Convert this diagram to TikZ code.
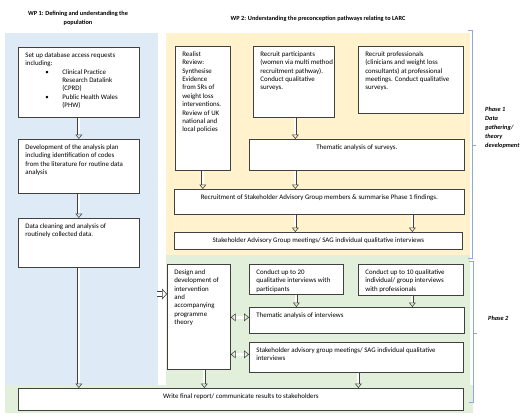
\documentclass[tikz,border=0pt]{standalone}
\usepackage{fontspec}
\setmainfont{Carlito}
\usetikzlibrary{arrows.meta,calc}

\definecolor{wpblue}{HTML}{DEEAF6}
\definecolor{wpyellow}{HTML}{FFF2CC}
\definecolor{wpgreen}{HTML}{E2EFDA}
\definecolor{brk}{HTML}{8EAADB}
\definecolor{bord}{HTML}{404040}

\newcommand\bxfont{\fontsize{6.9}{8.4}\selectfont}
\newcommand\ttlfont{\fontsize{6.3}{9}\selectfont\bfseries}

\tikzset{
  box/.style={draw=bord, line width=0.7pt, fill=white, anchor=north west,
    inner sep=0pt, font=\bxfont},
  varr/.style={draw=bord, double=white, line width=0.55pt, double distance=2pt,
    -{Triangle[open,width=7pt,length=4.5pt]}},
  harr/.style={draw=bord, double=white, line width=0.55pt, double distance=2.6pt,
    {Triangle[open,width=8pt,length=5pt]}-{Triangle[open,width=8pt,length=5pt]}},
  barr/.style={draw=bord, double=white, line width=0.6pt, double distance=4.5pt,
    -{Triangle[open,width=11pt,length=5pt]}},
  brace/.style={draw=brk, line width=0.7pt},
  title/.style={font=\ttlfont, align=center, inner sep=0pt},
  phase/.style={font=\fontsize{6.3}{9}\selectfont\bfseries\itshape, align=left,
    anchor=west, inner sep=0pt},
}

% left-aligned text box: name, x, y, w, h, text
\newcommand\lbox[6]{%
  \node[box, minimum width=#4pt, minimum height=#5pt] (#1) at (#2,#3)
  {\hspace*{7pt}\parbox[c][\dimexpr#5pt-8pt\relax][t]{\dimexpr#4pt-8pt\relax}{\raggedright\strut#6}\hspace*{1pt}};}
% centred text box
\newcommand\cbox[6]{%
  \node[box, minimum width=#4pt, minimum height=#5pt] (#1) at (#2,#3)
  {\parbox[c][\dimexpr#5pt-8pt\relax][t]{\dimexpr#4pt-4pt\relax}{\centering\strut#6}};}

\begin{document}
\begin{tikzpicture}[x=1pt, y=-1pt]
\useasboundingbox (0,0) rectangle (529,418);

% panels
\fill[wpblue] (5,33) rectangle (158,385);
\fill[wpyellow] (166,33) rectangle (470,255);
\fill[wpgreen] (166,255) rectangle (470,385);
\fill[wpgreen] (5,385) rectangle (473,413);

% titles
\node[title] (wp1) at (78,18.5) {WP 1: Defining and understanding the\\population};
\node[title] (wp2) at (318,19) {WP 2: Understanding the preconception pathways relating to LARC};

% WP1 boxes
\lbox{A}{18}{47}{121}{70}{Set up database access requests\\
including:\\
\hspace*{20pt}\makebox[17pt][l]{•}Clinical Practice\\
\hspace*{37pt}Research Datalink\\
\hspace*{37pt}(CPRD)\\
\hspace*{20pt}\makebox[17pt][l]{•}Public Health Wales\\
\hspace*{37pt}(PHW)}
\lbox{B}{18}{139}{121}{54}{Development of the analysis plan\\including identification of codes\\from the literature for routine data\\analysis}
\lbox{C}{18}{218}{121}{49}{Data cleaning and analysis of\\routinely collected data.}

% WP2 phase 1
\lbox{R}{175}{46}{55}{124}{Realist\\Review:\\Synthesise\\Evidence\\from SRs of\\weight loss\\interventions.\\Review of UK\\national and\\local policies}
\lbox{P}{253}{46}{81}{71}{Recruit participants\\(women via multi method\\recruitment pathway).\\Conduct qualitative\\surveys.}
\lbox{Q}{358}{46}{105}{67}{Recruit professionals\\(clinicians and weight loss\\consultants) at professional\\meetings. Conduct qualitative\\surveys.}
\cbox{T}{249}{139}{215}{31}{Thematic analysis of surveys.}
\cbox{S1}{174}{189}{290}{25}{Recruitment of Stakeholder Advisory Group members \& summarise Phase 1 findings.}
\cbox{S2}{174}{232}{288}{17}{Stakeholder Advisory Group meetings/ SAG individual qualitative interviews}

% WP2 phase 2
\lbox{D}{167}{264}{63}{105}{Design and\\development of\\intervention\\and\\accompanying\\programme\\theory}
\lbox{C20}{249}{264}{94}{30}{Conduct up to 20\\qualitative interviews with\\participants}
\lbox{C10}{358}{264}{105}{31}{Conduct up to 10 qualitative\\individual/ group interviews\\with professionals}
\lbox{TI}{249}{307}{215}{26}{Thematic analysis of interviews}
\lbox{SA}{249}{342}{214}{30}{Stakeholder advisory group meetings/ SAG individual qualitative\\interviews}
\cbox{F}{18}{388}{445}{22}{Write final report/ communicate results to stakeholders}

% connectors
\coordinate (px) at ([xshift=1.5pt]P.south);
\coordinate (qx) at ([xshift=1.5pt]Q.south);
\draw[varr] (A.south) -- (B.north);
\draw[varr] (B.south) -- (C.north);
\draw[varr] (C.south) -- (F.north -| C.south);
\draw[varr] (R.south) -- (R.south |- S1.north);
\draw[varr] (px) -- (px |- T.north);
\draw[varr] (T.south -| px) -- (S1.north -| px);
\draw[varr] (S1.south -| px) -- (S2.north -| px);
\draw[varr] (S1.south -| qx) -- (S2.north -| qx);
\draw[varr] (C20.south) -- (C20.south |- TI.north);
\draw[varr] ([xshift=1.5pt]C10.south) -- ([xshift=1.5pt]C10.south |- TI.north);
\draw[harr] ([yshift=3pt]TI.west -| D.east) -- ([yshift=3pt]TI.west);
\draw[harr] ([yshift=3pt]SA.west -| D.east) -- ([yshift=3pt]SA.west);
\draw[varr] ([xshift=5.5pt]D.south) -- ([xshift=5.5pt]D.south |- F.north);
\draw[varr] ([xshift=2pt]SA.south) -- ([xshift=2pt]SA.south |- F.north);
\coordinate (ain) at (157,294);
\draw[barr] (ain) -- (ain -| D.west);

% phase brackets
\draw[brace] (468,30) -- (472,30) -- (472,258) -- (468,258);
\draw[brace] (472,145) -- (476,145);
\draw[brace] (469,261) -- (473,261) -- (473,402) -- (469,402);
\draw[brace] (473,333) -- (477,333);
\node[phase] (ph1) at (485,128) {Phase 1\\Data\\gathering/\\theory\\development};
\node[phase] (ph2) at (488,318) {Phase 2};
\end{tikzpicture}
\end{document}
